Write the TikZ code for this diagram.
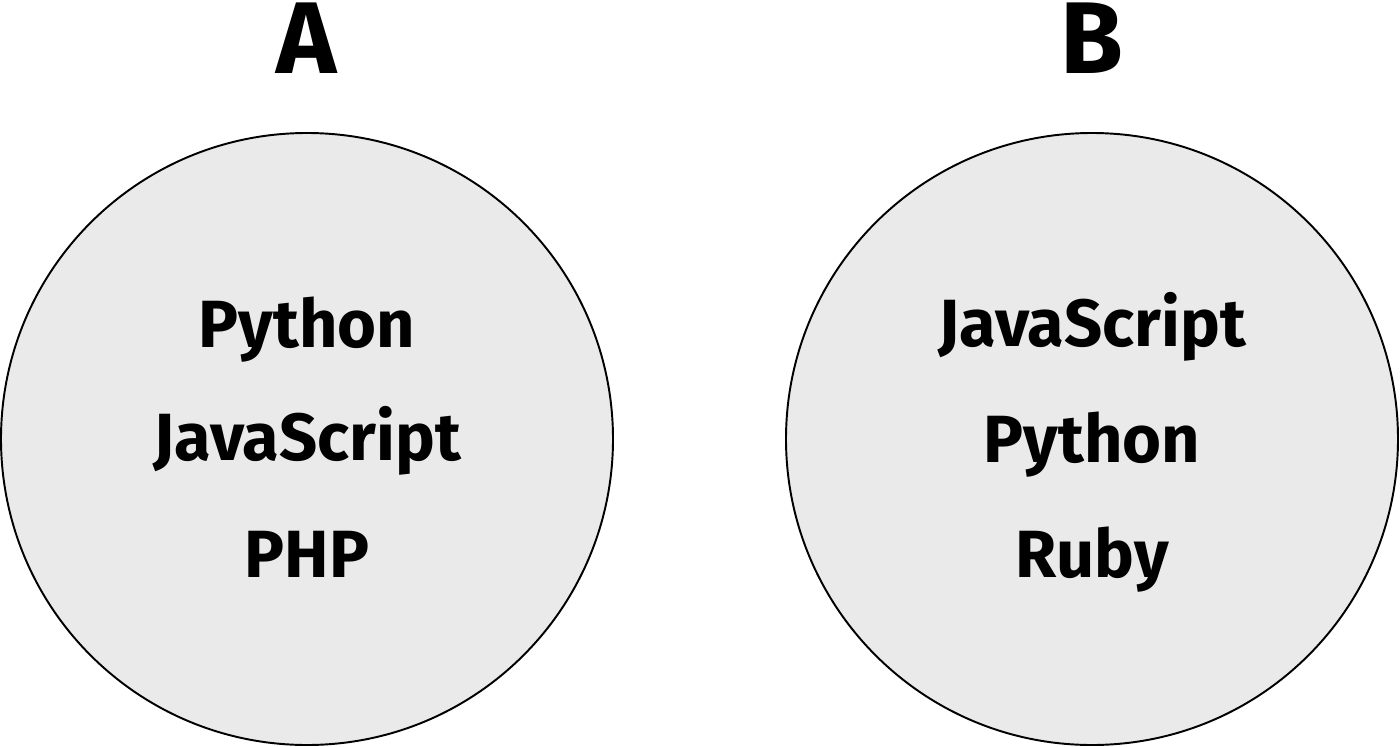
\documentclass[tikz,border=0pt]{standalone}
\usepackage{fontspec}
\setmainfont{Fira Sans}
\definecolor{setfill}{HTML}{EAEAEA}
\tikzset{
  setcircle/.style={circle, draw=black, line width=1.1pt, fill=setfill, minimum size=612*0.02cm, inner sep=0pt},
  lang/.style={anchor=base, font=\fontsize{38}{40}\selectfont\bfseries},
  settitle/.style={anchor=base, font=\fontsize{58}{60}\selectfont\bfseries}
}
\begin{document}
\begin{tikzpicture}[x=0.02cm, y=-0.02cm]
\useasboundingbox (0,0) rectangle (1400,747);

% Hai tập hợp
\node[setcircle] (setA) at (307,439) {};
\node[setcircle] (setB) at (1092,439) {};

% Tên tập hợp
\node[settitle] (titleA) at (307,73) {A};
\node[settitle] (titleB) at (1092,73) {B};

% Phần tử của A
\node[lang] (a1) at (307,347) {Python};
\node[lang] (a2) at (307,460) {JavaScript};
\node[lang] (a3) at (307,577) {PHP};

% Phần tử của B
\node[lang] (b1) at (1092,346) {JavaScript};
\node[lang] (b2) at (1092,462) {Python};
\node[lang] (b3) at (1092,577) {Ruby};
\end{tikzpicture}
\end{document}
